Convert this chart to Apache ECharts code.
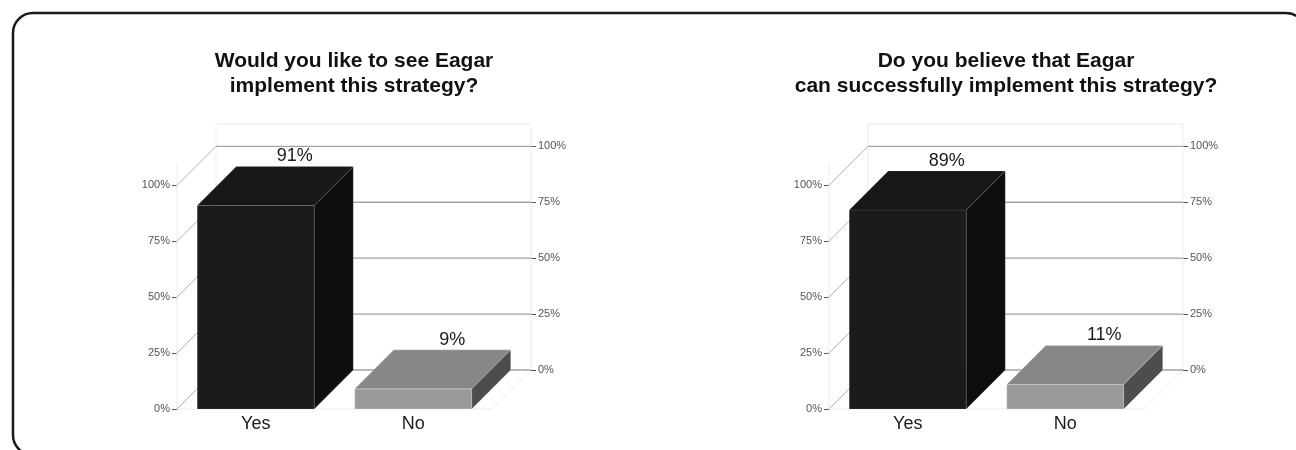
<!DOCTYPE html>
<html><head><meta charset="utf-8">
<script src="https://cdn.jsdelivr.net/npm/echarts@6/dist/echarts.min.js"></script>
<style>html,body{margin:0;padding:0;background:#fff;}#c{width:1296px;height:450px;}</style>
</head><body><div id="c"></div>
<script>
// ---- data ----
const categories = ['Yes', 'No'];
const chart1Values = [91, 9];
const chart2Values = [89, 11];
const chart1Title = ['Would you like to see Eagar', 'implement this strategy?'];
const chart2Title = ['Do you believe that Eagar', 'can successfully implement this strategy?'];
const tickValues = [0, 25, 50, 75, 100];
const wallTop = 110;

// ---- style ----
const DX = 39, DY = -39;
const FONT = '"Liberation Sans", Arial, Helvetica, sans-serif';
const faces = [
  { front: '#1b1b1b', top: '#171717', side: '#0e0e0e', edge: 'rgba(255,255,255,0.12)' },
  { front: '#9a9a9a', top: '#878787', side: '#4d4d4d', edge: 'rgba(255,255,255,0.3)' }
];
const panels = [
  { left: 177, values: chart1Values, title: chart1Title, cx: 354 },
  { left: 829, values: chart2Values, title: chart2Title, cx: 1006 }
];
const GW = 315, GH = 246, FRONT_TOP = 163;

const grid = [], xAxis = [], yAxis = [], series = [], graphic = [];

function yAxisCfg(gi, pos) {
  return {
    type: 'value', gridIndex: gi, position: pos, min: 0, max: wallTop,
    axisLine: { show: false },
    axisTick: { show: true, customValues: tickValues, length: 5, lineStyle: { color: '#555', width: 1 } },
    axisLabel: { customValues: tickValues, formatter: '{value}%', fontSize: 11, color: '#555', fontFamily: FONT, margin: 7 },
    splitLine: { show: false }
  };
}

panels.forEach((p, i) => {
  const fg = 2 * i, bg = 2 * i + 1;
  grid.push({ left: p.left, top: FRONT_TOP, width: GW, height: GH });
  grid.push({ left: p.left + DX, top: FRONT_TOP + DY, width: GW, height: GH });
  xAxis.push({
    type: 'category', gridIndex: fg, data: categories,
    axisLine: { show: false }, axisTick: { show: false },
    axisLabel: { fontSize: 18, color: '#1a1a1a', fontFamily: FONT, margin: 6 }
  });
  xAxis.push({ type: 'category', gridIndex: bg, data: categories, show: false });
  yAxis.push(yAxisCfg(fg, 'left'));
  yAxis.push(yAxisCfg(bg, 'right'));

  // faint frame of the box
  series.push({
    type: 'custom', xAxisIndex: fg, yAxisIndex: fg, silent: true, z: 1,
    data: [[0, wallTop]],
    renderItem: (params, api) => {
      const cs = params.coordSys;
      const l = cs.x, r = cs.x + cs.width;
      const yt = api.coord([0, api.value(1)])[1];
      const yb = api.coord([0, 0])[1];
      const st = { stroke: '#ececec', lineWidth: 1, fill: null };
      const lines = [
        [l, yt, l, yb],
        [l + DX, yt + DY, r + DX, yt + DY],
        [l + DX, yt + DY, l + DX, yb + DY],
        [r + DX, yt + DY, r + DX, yb + DY],
        [r, yb, r + DX, yb + DY],
        [l, yb, r, yb]
      ];
      return { type: 'group', children: lines.map(a => ({ type: 'line', shape: { x1: a[0], y1: a[1], x2: a[2], y2: a[3] }, style: st })) };
    }
  });
  // grid lines: left wall diagonals + back wall horizontals
  series.push({
    type: 'custom', xAxisIndex: fg, yAxisIndex: fg, silent: true, z: 2,
    data: tickValues.map(v => [0, v]),
    renderItem: (params, api) => {
      const cs = params.coordSys;
      const l = cs.x, r = cs.x + cs.width;
      const y = api.coord([0, api.value(1)])[1];
      return {
        type: 'group', children: [
          { type: 'line', shape: { x1: l, y1: y, x2: l + DX, y2: y + DY }, style: { stroke: '#b0b0b0', lineWidth: 1 } },
          { type: 'line', shape: { x1: l + DX, y1: y + DY, x2: r + DX, y2: y + DY }, style: { stroke: '#a2a2a2', lineWidth: 1.3 } }
        ]
      };
    }
  });
  // 3D bars
  series.push({
    type: 'custom', xAxisIndex: fg, yAxisIndex: fg, z: 5,
    data: p.values.map((v, k) => [k, v]),
    renderItem: (params, api) => {
      const k = api.value(0), v = api.value(1);
      const base = api.coord([k, 0]), top = api.coord([k, v]);
      const w = api.size([1, 0])[0] * 0.743;
      const x0 = base[0] - w / 2, x1 = x0 + w, y0 = base[1], y1 = top[1];
      const f = faces[k];
      const edge = { stroke: f.edge, lineWidth: 0.8 };
      return {
        type: 'group', children: [
          { type: 'polygon', shape: { points: [[x0, y1], [x1, y1], [x1, y0], [x0, y0]] }, style: Object.assign({ fill: f.front }, edge) },
          { type: 'polygon', shape: { points: [[x0, y1], [x0 + DX, y1 + DY], [x1 + DX, y1 + DY], [x1, y1]] }, style: Object.assign({ fill: f.top }, edge) },
          { type: 'polygon', shape: { points: [[x1, y1], [x1 + DX, y1 + DY], [x1 + DX, y0 + DY], [x1, y0]] }, style: Object.assign({ fill: f.side }, edge) },
          { type: 'text', x: (x0 + x1) / 2 + DX, y: y1 + DY - 1, style: { text: v + '%', fontSize: 18, fontFamily: FONT, fill: '#1a1a1a', align: 'center', verticalAlign: 'bottom' } }
        ]
      };
    }
  });
  // titles
  p.title.forEach((t, li) => {
    graphic.push({ type: 'text', x: p.cx, y: 61 + li * 25, style: { text: t, fontSize: 21, fontWeight: 'bold', fontFamily: FONT, fill: '#111', align: 'center', verticalAlign: 'middle' } });
  });
});

graphic.push({ type: 'rect', shape: { x: 13, y: 13, width: 1293, height: 442, r: 20 }, style: { fill: null, stroke: '#1a1a1a', lineWidth: 2.5 }, z: 100 });

const chart = echarts.init(document.getElementById('c'), null, { renderer: 'canvas' });
chart.setOption({ animation: false, backgroundColor: '#fff', grid, xAxis, yAxis, series, graphic });
</script></body></html>
